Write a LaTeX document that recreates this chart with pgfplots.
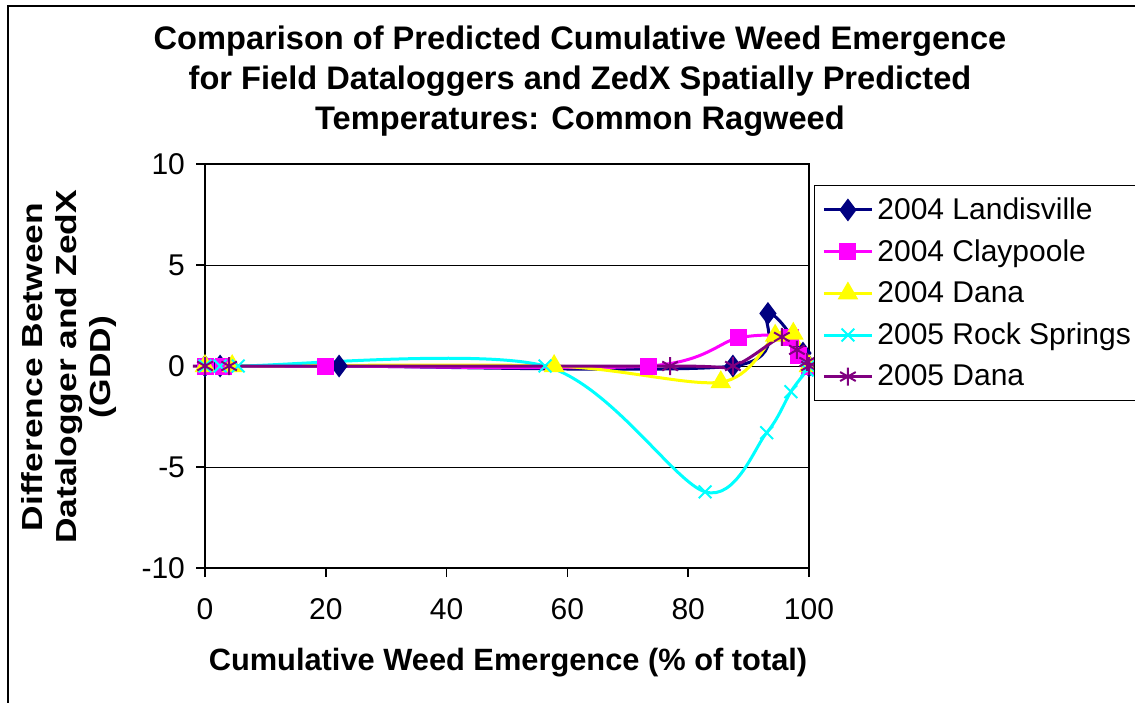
\documentclass[border=0pt]{standalone}
\usepackage{fontspec}
\setmainfont{Liberation Sans}
\newfontfamily\ylfont[FakeStretch=1.22]{Liberation Sans}
\usepackage{pgfplots}
\pgfplotsset{compat=1.18}

\definecolor{landis}{RGB}{0,0,128}
\definecolor{clay}{RGB}{255,0,255}
\definecolor{dana4}{RGB}{255,255,0}
\definecolor{rock}{RGB}{0,255,255}
\definecolor{dana5}{RGB}{128,0,128}

\begin{document}
% picture units are reference pixels, y pointing down
\begin{tikzpicture}[x=0.5pt,y=-0.5pt]
\useasboundingbox (0,0) rectangle (1135,702);
\clip (0,0) rectangle (1135,702);
\draw[line width=1.2pt] (1150,6) -- (8,6) -- (8,720);

\node[align=center,font=\fontsize{16.3}{20}\selectfont\bfseries] at (580,81)
  {Comparison of Predicted Cumulative Weed Emergence\\
   for Field Dataloggers and ZedX Spatially Predicted\\
   Temperatures: Common Ragweed};
\node[align=center,rotate=90,font=\ylfont\fontsize{14.5}{17}\selectfont\bfseries] at (69,367)
  {Difference Between\\Datalogger and ZedX\\(GDD)};
\node[font=\fontsize{15.4}{17}\selectfont\bfseries] at (508,663)
  {Cumulative Weed Emergence (\% of total)};

\coordinate (ll) at (205,568);
\begin{axis}[
    at={(ll)}, anchor=south west,
    scale only axis,
    width=302pt, height=202pt,
    xmin=0, xmax=100, ymin=-10, ymax=10,
    xtick={0,20,...,100}, ytick={-10,-5,...,10},
    tick pos=left,
    ymajorgrids, grid style={black, line width=0.5pt},
    axis line style={black, line width=0.8pt},
    tick align=outside, major tick length=4.5pt,
    tick style={black, line width=0.8pt},
    ticklabel style={font=\fontsize{15}{17}\selectfont},
    /pgf/number format/assume math mode=true,
    xticklabel style={yshift=-7pt},
    yticklabel style={xshift=-2pt},
    legend style={at={(1.008,0.948)}, anchor=north west,
        draw=black, line width=0.6pt, fill=white,
        font=\fontsize{15}{17}\selectfont, row sep=4.6pt,
        inner xsep=4pt, inner ysep=4pt},
    legend cell align=left,
    legend image code/.code={\draw[mark repeat=2,mark phase=2]
        plot coordinates {(0pt,0pt)(12pt,0pt)(24pt,0pt)};},
    every axis plot/.append style={line width=1.5pt, smooth, tension=0.5},
    clip=false,
]
\addplot[color=landis, mark=diamond*, mark size=4.5pt, mark options={solid, fill=landis}]
 coordinates {(0,0) (2.5,0) (22.2,0) (87.4,0) (93.2,2.6) (99,0.64) (100,0)};
\addlegendentry{2004 Landisville}

\addplot[color=clay, mark=square*, mark size=3.5pt, mark options={solid, fill=clay}]
 coordinates {(0,0) (3,0) (20,0) (73.5,0) (88.3,1.39) (96.9,1.43) (98.2,0.5) (100,0)};
\addlegendentry{2004 Claypoole}

\addplot[color=dana4, mark=triangle*, mark size=4.5pt, mark options={solid, fill=dana4}]
 coordinates {(0,0) (4.5,0) (57.8,0) (85.4,-0.8) (94.4,1.5) (97.4,1.6) (100,0)};
\addlegendentry{2004 Dana}

\addplot[color=rock, mark=x, mark size=4.5pt, mark options={solid, line width=1pt}]
 coordinates {(0,0) (2.5,0) (5.5,0) (56.3,0) (82.8,-6.23) (93,-3.3) (97,-1.27) (99.7,-0.2) (100,0)};
\addlegendentry{2005 Rock Springs}

\addplot[color=dana5, mark=asterisk, mark size=4.5pt, mark options={solid, line width=1pt}]
 coordinates {(0,0) (4,0) (77,0) (87.4,0) (95.5,1.44) (98,0.8) (99.7,0.2) (100,0)};
\addlegendentry{2005 Dana}
\end{axis}
\end{tikzpicture}
\end{document}
